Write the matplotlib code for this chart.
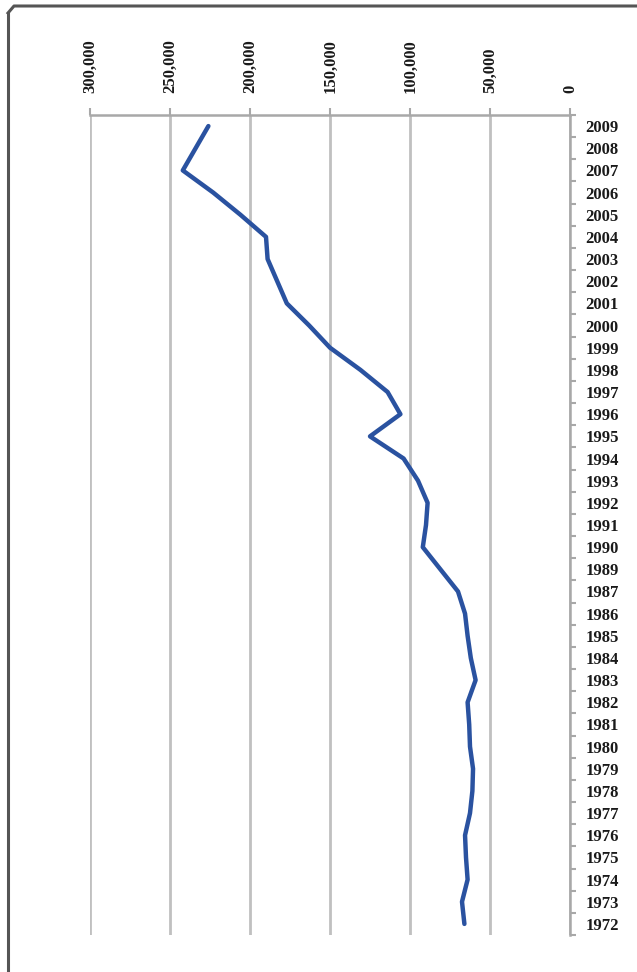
import matplotlib
matplotlib.use("Agg")
import matplotlib.pyplot as plt
from matplotlib.lines import Line2D
from matplotlib.ticker import FixedLocator, FuncFormatter

years = ["1972", "1973", "1974", "1975", "1976", "1977", "1978", "1979", "1980",
         "1981", "1982", "1983", "1984", "1985", "1986", "1987", "1989", "1990",
         "1991", "1992", "1993", "1994", "1995", "1996", "1997", "1998", "1999",
         "2000", "2001", "2002", "2003", "2004", "2005", "2006", "2007", "2008", "2009"]
values = [66000, 67500, 64000, 65000, 65600, 62500, 61000, 60600, 62500,
          63000, 64000, 59000, 62000, 64000, 65600, 70000, 81000, 92000,
          90000, 89000, 95000, 104000, 125000, 106000, 114000, 131000, 150000,
          163000, 177000, 183000, 189000, 190000, 206000, 223000, 242000, 234000, 226000]
value_ticks = [0, 50000, 100000, 150000, 200000, 250000, 300000]

W, H = 637, 972
fig = plt.figure(figsize=(W / 100, H / 100), dpi=100)
fig.patch.set_facecolor("white")

left, right, top, bottom = 90, 570, 115, 935
ax = fig.add_axes([left / W, 1 - bottom / H, (right - left) / W, (bottom - top) / H])

idx = list(range(len(years)))
ax.plot(values, idx, color="#2a52a0", lw=3.2, solid_joinstyle="round", solid_capstyle="round", zorder=3)

ax.set_xlim(300000, 0)
ax.set_ylim(-0.5, len(years) - 0.5)

ax.xaxis.set_ticks_position("top")
ax.xaxis.set_label_position("top")
ax.set_xticks(value_ticks)
ax.xaxis.set_major_formatter(FuncFormatter(lambda v, p: f"{int(v):,}"))
ax.tick_params(axis="x", which="major", direction="out", length=5, width=1.5,
               color="#a8a8a8", pad=11, labelsize=12, labelrotation=90)
for lab in ax.get_xticklabels():
    lab.set_fontfamily("Liberation Serif")
    lab.set_fontweight("bold")
    lab.set_color("#1a1a1a")

ax.yaxis.set_ticks_position("right")
ax.yaxis.set_label_position("right")
ax.set_yticks(idx)
ax.set_yticklabels(years)
ax.yaxis.set_minor_locator(FixedLocator([i - 0.5 for i in range(len(years) + 1)]))
ax.tick_params(axis="y", which="major", length=0, pad=11, labelsize=12)
ax.tick_params(axis="y", which="minor", direction="out", length=4, width=1.5, color="#a8a8a8")
for lab in ax.get_yticklabels():
    lab.set_fontfamily("Liberation Serif")
    lab.set_fontweight("bold")
    lab.set_color("#1a1a1a")

for s in ["left", "bottom"]:
    ax.spines[s].set_visible(False)
for s in ["top", "right"]:
    ax.spines[s].set_color("#a8a8a8")
    ax.spines[s].set_linewidth(1.8)

ax.grid(axis="x", color="#c0c0c0", lw=2.0, zorder=1)
ax.grid(axis="y", visible=False)
ax.set_facecolor("white")

# outer border
fig.add_artist(Line2D([8 / W, 8 / W], [0, 1 - 13 / H], transform=fig.transFigure, color="#555555", lw=2.2))
fig.add_artist(Line2D([8 / W, 14 / W, 637 / W], [1 - 13 / H, 1 - 6 / H, 1 - 6 / H],
                      transform=fig.transFigure, color="#555555", lw=2.2))

fig.savefig("out.png", dpi=100, facecolor="white")
